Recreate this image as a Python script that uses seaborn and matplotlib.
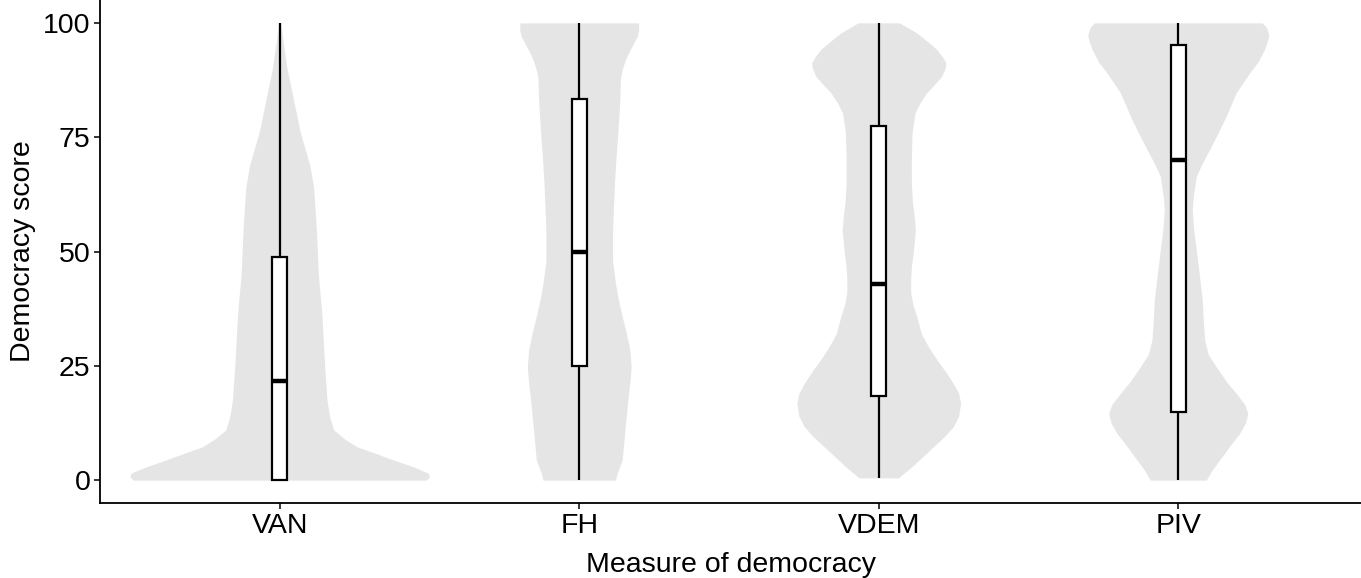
import numpy as np
import pandas as pd
import matplotlib
matplotlib.use("Agg")
import matplotlib.pyplot as plt
import seaborn as sns

# ---------------- data ----------------
measures = ["VAN", "FH", "VDEM", "PIV"]

box_min = [0.0, 0.0, 0.5, 0.0]
box_q1 = [0.0, 25.0, 18.3, 15.0]
box_med = [21.6, 50.0, 42.9, 70.1]
box_q3 = [48.9, 83.4, 77.4, 95.1]
box_max = [100.0, 100.0, 100.0, 100.0]

# violin outlines: score and relative density (arbitrary units)
van_score = [0, 0.7, 1.5, 2.9, 4.4, 5.8, 7.3, 9, 11, 13.9, 17.5, 25, 36, 45, 55, 64, 69, 76, 83, 90, 95, 100]
van_dens = [440, 450, 447, 402, 342, 290, 232, 195, 162, 150, 142, 135, 127, 116, 110, 102, 90, 62, 42, 22, 12, 3]

fh_score = [0, 1.5, 4.4, 10, 17.5, 22, 24.8, 28.5, 32, 35.8, 40, 43, 48, 54, 60, 65, 70, 76, 83, 88, 90, 92, 94, 95.6, 97, 98.5, 100]
fh_dens = [109, 114, 129, 136, 146, 153, 156, 152, 142, 129, 116, 109, 100, 100, 103, 106, 110, 116, 122, 124, 130, 139, 152, 164, 174, 179, 178]

vdem_score = [0.5, 2.9, 5, 7.3, 9.5, 11.7, 14, 16.8, 19, 21, 23.4, 26, 29.2, 32, 35.8, 38, 40.9, 44, 46.7, 50, 54.7, 58, 61, 65, 70, 75.9, 78, 80.3, 82.5, 84.7, 86.5, 88.3, 90, 91.2, 92.5, 94.2, 96, 97.8, 100]
vdem_dens = [59, 99, 130, 164, 197, 224, 240, 246, 240, 225, 204, 178, 149, 128, 114, 104, 96, 96, 98, 104, 110, 106, 101, 98, 98, 100, 104, 109, 124, 144, 167, 189, 199, 202, 192, 174, 145, 114, 62]

piv_score = [0, 2, 4.4, 7, 10.2, 12.5, 14.6, 16.5, 19, 21.5, 24.8, 27.5, 30.7, 35, 39.4, 45, 50.4, 55, 59.1, 62, 66.4, 69, 72.3, 76, 79.6, 82, 84.7, 87, 89, 91.5, 94.2, 96, 97.4, 99, 100]
piv_dens = [84, 100, 124, 150, 184, 202, 209, 200, 174, 145, 114, 90, 79, 75, 72, 63, 54, 46, 42, 45, 54, 70, 94, 120, 144, 158, 174, 195, 214, 240, 259, 268, 272, 265, 252]

profiles = {
    "VAN": (van_score, van_dens),
    "FH": (fh_score, fh_dens),
    "VDEM": (vdem_score, vdem_dens),
    "PIV": (piv_score, piv_dens),
}

# five-number summaries as a long table for seaborn's boxplot
rows = []
for i, m in enumerate(measures):
    for v in (box_min[i], box_q1[i], box_med[i], box_q3[i], box_max[i]):
        rows.append({"measure": m, "score": v})
df = pd.DataFrame(rows)

# ---------------- drawing ----------------
sns.set_theme(style="ticks")
plt.rcParams["font.family"] = ["Liberation Sans", "DejaVu Sans"]

fig = plt.figure(figsize=(13.61, 5.78), dpi=100)
ax = fig.add_axes([100 / 1361, 75 / 578, 1261 / 1361, 503 / 578])

dens_scale = 1 / 900.0
for i, m in enumerate(measures):
    s, d = profiles[m]
    hw = np.asarray(d, dtype=float) * dens_scale
    ax.fill_betweenx(s, i - hw, i + hw, color="#E5E5E5", lw=0, zorder=1)

sns.boxplot(
    data=df, x="measure", y="score", order=measures,
    width=0.05, whis=(0, 100), color="white", linecolor="black",
    linewidth=1.6, showcaps=False, fliersize=0,
    medianprops=dict(linewidth=3.2, color="black"),
    ax=ax,
)

ax.set_xlim(-0.6, 3.61)
ax.set_ylim(-5, 105)
ax.set_yticks([0, 25, 50, 75, 100])
ax.set_xlabel("Measure of democracy", fontsize=20.5, color="black", labelpad=9.5)
ax.set_ylabel("Democracy score", fontsize=20.5, color="black", labelpad=5)
sns.despine(ax=ax)
for sp in ("left", "bottom"):
    ax.spines[sp].set_linewidth(1.3)
    ax.spines[sp].set_color("black")
ax.tick_params(axis="both", length=4.5, width=1.1, color="black",
               labelsize=20.5, labelcolor="black", pad=2.5)

fig.savefig("out.png", dpi=100)
